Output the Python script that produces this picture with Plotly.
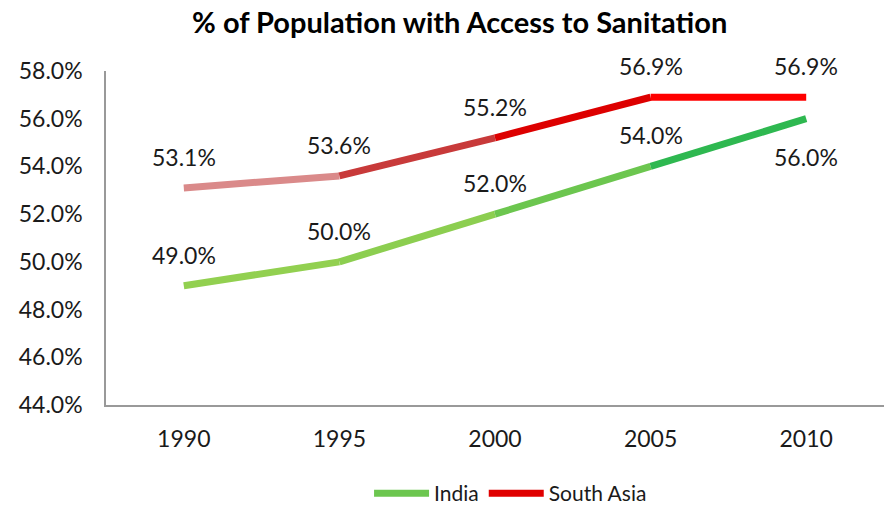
import plotly.graph_objects as go

years = ["1990", "1995", "2000", "2005", "2010"]
india = [49.0, 50.0, 52.0, 54.0, 56.0]
south_asia = [53.1, 53.6, 55.2, 56.9, 56.9]

# per-segment colours approximating the gradient strokes
india_seg_colors = ["#92D050", "#8CCE50", "#6CC64F", "#2EB850"]
sa_seg_colors = ["#DA8A8A", "#C83A3A", "#DD0000", "#FF0000"]
india_label_pos = ["above", "above", "above", "above", "below"]
sa_label_pos = ["above", "above", "above", "above", "above"]

FONT = "Lato"
LW = 7

fig = go.Figure()

def add_series(name, vals, seg_colors, legend_color):
    for i in range(len(vals) - 1):
        fig.add_trace(go.Scatter(
            x=years[i:i + 2], y=vals[i:i + 2], mode="lines",
            line=dict(color=seg_colors[i], width=LW),
            legendgroup=name, showlegend=False, hoverinfo="skip",
        ))
    fig.add_trace(go.Scatter(
        x=[years[0]], y=[None], mode="lines", name=name,
        line=dict(color=legend_color, width=LW), legendgroup=name,
    ))

add_series("India", india, india_seg_colors, "#6CC64F")
add_series("South Asia", south_asia, sa_seg_colors, "#E00000")

for vals, pos in ((india, india_label_pos), (south_asia, sa_label_pos)):
    for i, (v, p) in enumerate(zip(vals, pos)):
        fig.add_annotation(
            x=i, y=v, text=f"{v:.1f}%", showarrow=False,
            yshift=31 if p == "above" else -38,
            font=dict(family=FONT, size=23, color="#1a1a1a"),
        )

fig.update_layout(
    width=884, height=505,
    margin=dict(l=106, r=0, t=71, b=100, autoexpand=False),
    paper_bgcolor="white", plot_bgcolor="white",
    title=dict(text="<b>% of Population with Access to Sanitation</b>",
               x=0.52, xanchor="center", y=0.955, yanchor="middle",
               font=dict(family=FONT, size=29, color="#000000", weight=900)),
    showlegend=True,
    legend=dict(orientation="h", x=0.52, xanchor="center", y=-0.265, yanchor="middle",
                font=dict(family=FONT, size=21, color="#1a1a1a"),
                itemwidth=55, tracegroupgap=0),
    xaxis=dict(type="category", categoryorder="array", categoryarray=years,
               range=[-0.5, 4.5], showgrid=False, showline=True, linecolor="#999999",
               linewidth=1.5, ticks="", ticklabelstandoff=13,
               tickfont=dict(family=FONT, size=23, color="#1a1a1a"), zeroline=False),
    yaxis=dict(range=[44, 58], dtick=2, tickformat=".1f", ticksuffix="%",
               showgrid=False, showline=True, linecolor="#999999", linewidth=1.5,
               ticks="", ticklabelstandoff=17, zeroline=False,
               tickfont=dict(family=FONT, size=23, color="#1a1a1a")),
)

fig.write_html("out.html", config={"displayModeBar": False},
               post_script="document.body.style.margin='0px';document.body.style.overflow='hidden';")
